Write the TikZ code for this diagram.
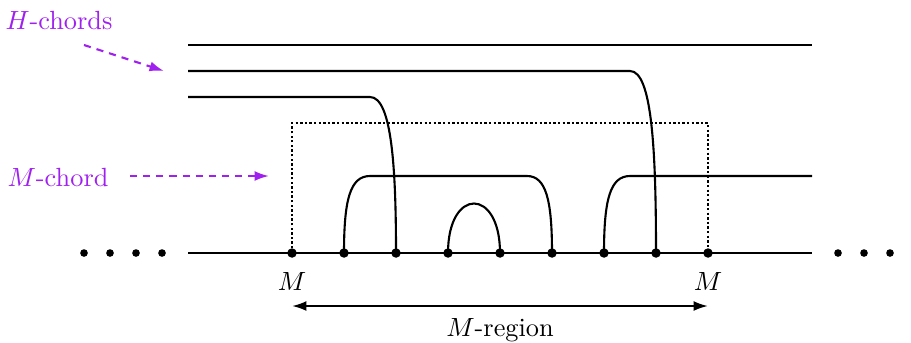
\documentclass[tikz,border=0pt]{standalone}
\usetikzlibrary{arrows.meta}
\definecolor{xpurple}{RGB}{160,32,240}
\begin{document}
\begin{tikzpicture}[x=0.38pt,y=-0.38pt,
  chord/.style={line width=0.8pt},
  dotnode/.style={circle,fill=black,inner sep=0pt,minimum size=3.6pt},
  smalldot/.style={circle,fill=black,inner sep=0pt,minimum size=2.9pt},
  boxline/.style={line width=0.8pt,dash pattern=on 0.9pt off 0.85pt},
  hint/.style={xpurple,line width=0.8pt,dash pattern=on 2.7pt off 2.3pt,-{Latex[length=5.5pt,width=3.8pt]}},
  lbl/.style={inner sep=0pt},
  plbl/.style={inner sep=0pt,text=xpurple}]
\useasboundingbox (0,0) rectangle (911,342);
% baseline end points
\coordinate (bl) at (188,253);
\coordinate (br) at (812,253);
% baseline points
\node[dotnode] (m1) at (292,253) {};
\node[dotnode] (a1) at (344,253) {};
\node[dotnode] (h1) at (396,253) {};
\node[dotnode] (s1) at (448,253) {};
\node[dotnode] (s2) at (500,253) {};
\node[dotnode] (a2) at (552,253) {};
\node[dotnode] (b1) at (604,253) {};
\node[dotnode] (h2) at (656,253) {};
\node[dotnode] (m2) at (708,253) {};
\draw[chord] (bl) -- (br);
% ellipsis dots
\foreach \i/\x in {1/84,2/110,3/136,4/162}{\node[smalldot] (l\i) at (\x,253) {};}
\foreach \i/\x in {1/838,2/864,3/890}{\node[smalldot] (r\i) at (\x,253) {};}
% H-chords
\coordinate (t0) at (188,45); \coordinate (t0e) at (812,45);
\draw[chord] (t0) -- (t0e);
\coordinate (t1) at (188,71);
\draw[chord] (t1) -- (630,71) .. controls (652,71) and (656,150) .. (h2.center);
\coordinate (t2) at (188,97);
\draw[chord] (t2) -- (370,97) .. controls (392,97) and (396,170) .. (h1.center);
% M-chords
\draw[chord] (a1.center) .. controls (344,200) and (350,176) .. (370,176) -- (527,176)
  .. controls (546,176) and (552,200) .. (a2.center);
\draw[chord] (s1.center) .. controls (448,187) and (500,187) .. (s2.center);
\coordinate (re) at (812,176);
\draw[chord] (b1.center) .. controls (604,200) and (610,176) .. (630,176) -- (re);
% dotted box
\draw[boxline] (m1.center) -- (292,123) -- (708,123) -- (m2.center);
% labels
\node[lbl] (ml1) at (292,281) {$M$};
\node[lbl] (ml2) at (708,281) {$M$};
\coordinate (ra) at (292,306); \coordinate (rb) at (708,306);
\draw[line width=0.8pt,{Latex[length=5.5pt,width=3.8pt]}-{Latex[length=5.5pt,width=3.8pt]}] (ra) -- (rb);
\node[lbl] (reg) at (500,330) {$M$-region};
% purple hints
\node[plbl] (hl) at (59,21) {$H$-chords};
\node[plbl] (ml) at (58,177) {$M$-chord};
\coordinate (ha) at (84,45); \coordinate (hb) at (164,71);
\draw[hint] (ha) -- (hb);
\coordinate (ma) at (130,176); \coordinate (mb) at (269,176);
\draw[hint] (ma) -- (mb);
\end{tikzpicture}
\end{document}
